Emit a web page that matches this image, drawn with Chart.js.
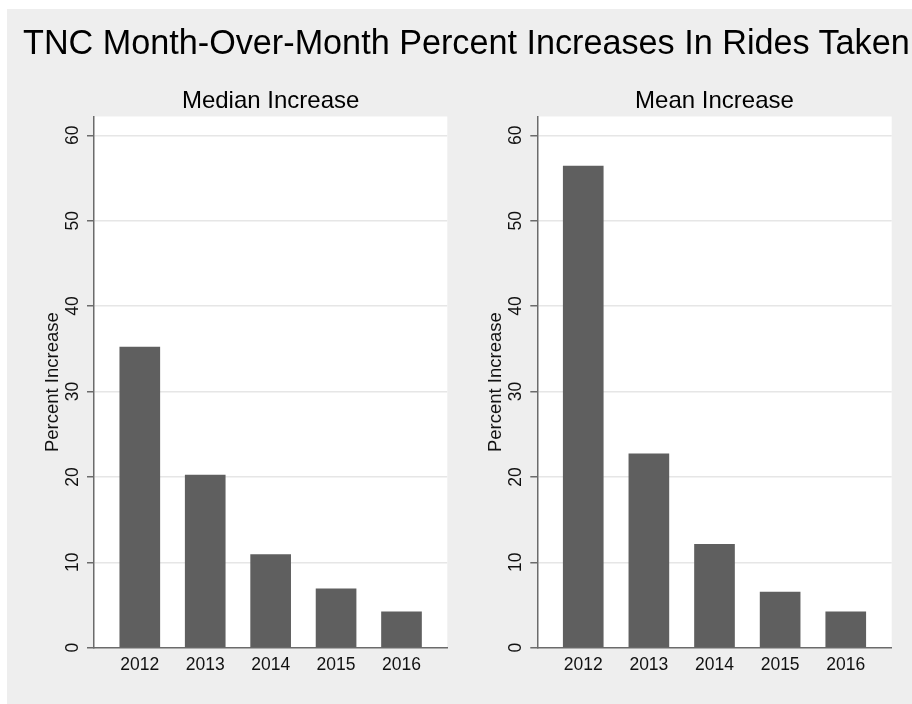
<!DOCTYPE html>
<html lang="en">
<head>
<meta charset="UTF-8">
<title>TNC Month-Over-Month Percent Increases In Rides Taken</title>
<script src="https://cdn.jsdelivr.net/npm/chart.js"></script>
<style>
  body { margin: 0; background: #fff; font-family: "Liberation Sans", Arial, sans-serif; }
  .panel { position: absolute; left: 7px; top: 9px; width: 905px; height: 695px; background: #eeeeee; }
  .title { position: absolute; left: 23px; top: 25px; font-size: 34.2px; line-height: 34px; color: #000; white-space: nowrap; }
  canvas { position: absolute; top: 0; }
  #leftChart { left: 0; }
  #rightChart { left: 456px; }
</style>
</head>
<body>
<div class="panel"></div>
<canvas id="leftChart" width="456" height="704"></canvas>
<canvas id="rightChart" width="456" height="704"></canvas>
<div class="title">TNC Month-Over-Month Percent Increases In Rides Taken</div>

<script>
const years = [2012, 2013, 2014, 2015, 2016];
const medianIncrease = [35.2, 20.2, 10.9, 6.9, 4.2];
const meanIncrease = [56.4, 22.7, 12.1, 6.5, 4.2];
const yTicks = [0, 10, 20, 30, 40, 50, 60];

const family = '"Liberation Sans", Arial, sans-serif';
Chart.defaults.font.family = family;

// white plot area + panel subtitle centred over the plot area
const subtitlePlugin = {
  id: 'subtitle',
  beforeDraw(chart, args, opts) {
    const { ctx, chartArea: a } = chart;
    ctx.save();
    ctx.fillStyle = '#ffffff';
    ctx.fillRect(a.left, a.top, a.right - a.left, a.bottom - a.top);
    ctx.font = '24px ' + family;
    ctx.fillStyle = '#000';
    ctx.textAlign = 'center';
    ctx.textBaseline = 'alphabetic';
    ctx.fillText(opts.text, (a.left + a.right) / 2, a.top - 8.2);
    ctx.restore();
  }
};

function makeChart(id, title, values, padLeft, padRight) {
  return new Chart(document.getElementById(id), {
    type: 'bar',
    data: {
      labels: years,
      datasets: [{ data: values, backgroundColor: '#5f5f5f', barThickness: 40 }]
    },
    options: {
      responsive: false,
      animation: false,
      layout: { padding: { left: padLeft, right: padRight, top: 116.5, bottom: 16.3 } },
      plugins: {
        legend: { display: false },
        tooltip: { enabled: false },
        subtitle: { text: title }
      },
      scales: {
        x: {
          type: 'linear',
          min: 2011.3,
          max: 2016.7,
          offset: false,
          z: 1,
          afterBuildTicks: s => { s.ticks = years.map(v => ({ value: v })); },
          afterFit: s => { s.height = 40; },
          grid: { display: false, drawTicks: false },
          border: { display: true, color: '#6b6b6b', width: 1.5 },
          ticks: {
            padding: 7, color: '#111', font: { size: 17.5 },
            maxRotation: 0, autoSkip: false,
            callback: v => String(v)
          }
        },
        y: {
          min: 0,
          max: 62.2,
          afterBuildTicks: s => { s.ticks = yTicks.map(v => ({ value: v })); },
          afterFit: s => { s.width = 60; },
          grid: {
            color: c => (c.tick && c.tick.value === 0) ? 'rgba(0,0,0,0)' : '#e6e6e6',
            lineWidth: 1.5,
            tickColor: '#6b6b6b',
            tickLength: 7,
            tickWidth: 1.5
          },
          border: { color: '#6b6b6b', width: 1.5 },
          title: {
            display: true, text: 'Percent Increase', color: '#111',
            font: { size: 18.5 }, padding: { top: 8, bottom: 0 }
          },
          ticks: {
            minRotation: 90, maxRotation: 90, crossAlign: 'center',
            padding: 4.5, color: '#111', font: { size: 17.5 }, autoSkip: false,
            callback: v => String(v)
          }
        }
      }
    },
    plugins: [subtitlePlugin]
  });
}

makeChart('leftChart', 'Median Increase', medianIncrease, 34, 8.7);
makeChart('rightChart', 'Mean Increase', meanIncrease, 21.3, 20.3);
</script>
</body>
</html>
